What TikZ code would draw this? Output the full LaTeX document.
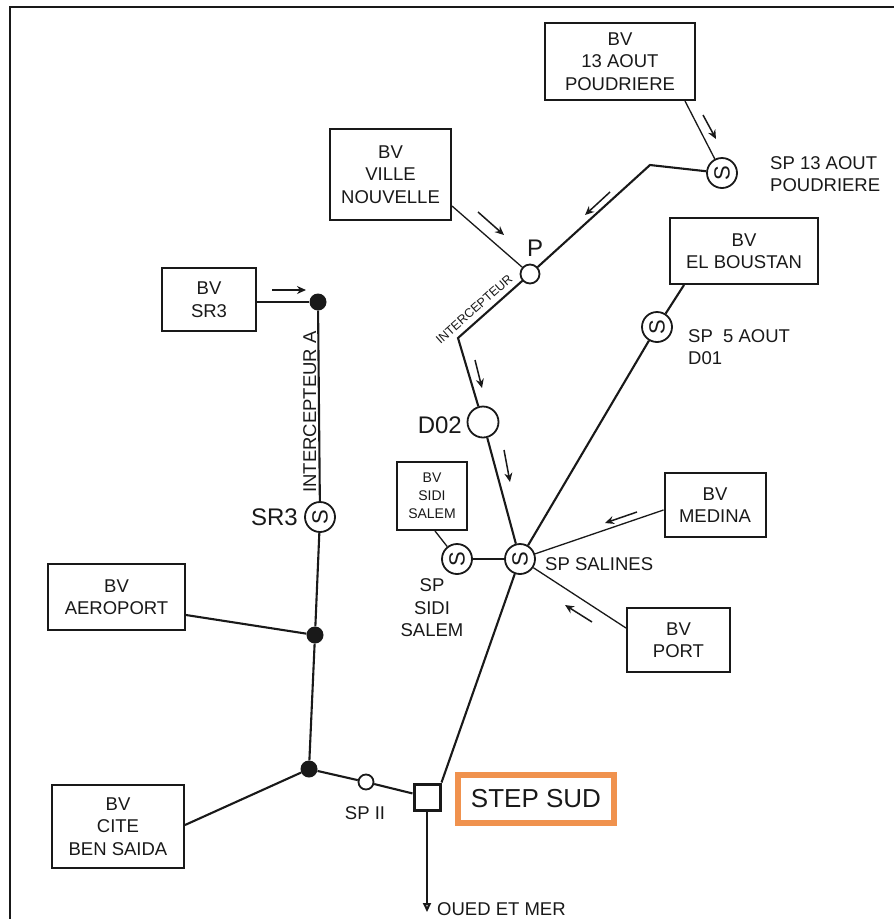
\documentclass[tikz,border=0pt]{standalone}
\usepackage{fontspec}
\setmainfont{Liberation Sans}
\usetikzlibrary{arrows.meta,calc}
\definecolor{stepor}{RGB}{240,146,78}
\definecolor{ink}{RGB}{25,25,25}
\tikzset{
 bvbox/.style={draw=ink,line width=2pt,align=center,inner sep=0pt,font=\fontsize{18.5}{22.5}\selectfont,text=ink},
 pipe/.style={draw=ink,line width=2.1pt},
 thinpipe/.style={draw=ink,line width=1.3pt},
 scirc/.style={circle,draw=ink,line width=1.8pt,fill=white,minimum size=30pt,inner sep=0pt,font=\fontsize{22}{22}\selectfont,text=ink},
 jdot/.style={circle,fill=ink,minimum size=17pt,inner sep=0pt},
 ocirc/.style={circle,draw=ink,fill=white,line width=1.8pt,inner sep=0pt},
 flow/.style={draw=ink,line width=1.5pt,-{Stealth[length=9pt,width=8pt]}},
 lbl/.style={font=\fontsize{18.5}{22.5}\selectfont,text=ink,inner sep=0pt,align=left},
 onelbl/.style={font=\fontsize{18.5}{22.5}\selectfont,text=ink,inner sep=0pt},
 biglbl/.style={font=\fontsize{24}{24}\selectfont,text=ink,inner sep=0pt},
}
\begin{document}
\begin{tikzpicture}[x=1pt,y=-1pt]
\useasboundingbox (0,0) rectangle (894,919);
\fill[white] (0,0) rectangle (894,919);
\draw[line width=1.5pt, ink] (10,919) -- (10,7) -- (894,7);

% boxes
\node[bvbox,minimum width=150pt,minimum height=77pt] (bv13) at (620,61.5) {BV\\13 AOUT\\POUDRIERE};
\node[bvbox,minimum width=121pt,minimum height=91pt] (vn) at (390.5,174.5) {BV\\VILLE\\NOUVELLE};
\node[bvbox,minimum width=94pt,minimum height=63pt] (bvsr3) at (209,299.5) {BV\\SR3};
\node[bvbox,minimum width=148pt,minimum height=66pt] (elb) at (744,251) {BV\\EL BOUSTAN};
\node[bvbox,minimum width=70pt,minimum height=68pt,font=\fontsize{14}{18}\selectfont] (bvsidi) at (432,496) {BV\\SIDI\\SALEM};
\node[bvbox,minimum width=101pt,minimum height=64pt] (med) at (715,505) {BV\\MEDINA};
\node[bvbox,minimum width=103pt,minimum height=64pt] (port) at (678.5,640) {BV\\PORT};
\node[bvbox,minimum width=137pt,minimum height=66pt] (aero) at (116.5,597) {BV\\AEROPORT};
\node[bvbox,minimum width=132pt,minimum height=83pt] (cite) at (118,826.5) {BV\\CITE\\BEN SAIDA};

% circles and junctions
\node[scirc,rotate=90] (sp13) at (722,173) {S};
\node[scirc,rotate=90] (sp5) at (657,327) {S};
\node[scirc,rotate=90] (sal) at (520,559) {S};
\node[scirc,rotate=90] (spsidi) at (457,559) {S};
\node[scirc,rotate=90] (sr3) at (320,517) {S};
\node[ocirc,minimum size=19pt] (P) at (530,274) {};
\node[ocirc,minimum size=31pt] (d02) at (483,422) {};
\node[ocirc,minimum size=15pt] (spII) at (366,782) {};
\node[jdot] (dot1) at (318,302) {};
\node[jdot] (dot2) at (315,635) {};
\node[jdot] (dot3) at (309,769) {};
\node[draw=ink,line width=3pt,fill=white,minimum size=26pt,inner sep=0pt] (step) at (427,797) {};

\coordinate (c1) at (650,165);
\coordinate (c2) at (458,338);
\coordinate (out) at (427,912);

% connectors
\draw[thinpipe] (bv13.south -| 685,0) -- (sp13);
\draw[pipe] (sp13) -- (c1) -- (P);
\draw[thinpipe] (vn.east |- 0,206) -- (P);
\draw[pipe] (P) -- (c2) -- (d02);
\draw[pipe] (d02) -- (sal);
\draw[thinpipe] (bvsr3.east |- 0,302) -- (dot1);
\draw[pipe] (dot1) -- (sr3);
\draw[pipe] (sr3) -- (dot2);
\draw[pipe] (dot2) -- (dot3);
\draw[pipe] (aero.east |- 0,615) -- (dot2);
\draw[pipe] (cite.east |- 0,825) -- (dot3);
\draw[pipe] (dot3) -- (spII);
\draw[pipe] (spII) -- (step);
\draw[pipe,-{Triangle[open,length=9pt,width=8pt]}] (step) -- (out);
\draw[pipe] (elb.south -| 684,0) -- (sp5);
\draw[pipe] (sp5) -- (sal);
\draw[pipe] (sal) -- (step.north east);
\draw[thinpipe] (bvsidi.south -| 435,0) -- (spsidi);
\draw[pipe] (spsidi) -- (sal);
\draw[thinpipe] (med.west |- 0,510) -- (sal);
\draw[thinpipe] (port.west |- 0,628) -- (sal);

% flow arrows
\draw[flow] (703,115) -- (716,139);
\draw[flow] (610,192) -- (585,215);
\draw[flow] (478,212) -- (504,235);
\draw[flow] (272,290) -- (306,290);
\draw[flow] (475,360) -- (482,388);
\draw[flow] (504,450) -- (510,482);
\draw[flow] (637,512) -- (605,523);
\draw[flow] (592,622) -- (565,605);

% labels
\node[lbl,anchor=west] (l13) at (770,174) {SP 13 AOUT\\POUDRIERE};
\node[lbl,anchor=west] (l5) at (688,347) {SP\ \ 5 AOUT\\D01};
\node[onelbl,anchor=west] (lsal) at (545,564) {SP SALINES};
\node[lbl,align=center] (lsidi) at (432,608) {SP\\SIDI\\SALEM};
\node[biglbl,anchor=east] (lsr3) at (298,517) {SR3};
\node[biglbl,anchor=east] (ld02) at (462,425) {D02};
\node[biglbl] (lP) at (535,248) {P};
\node[onelbl,rotate=90,anchor=base] (lintA) at (316,412) {INTERCEPTEUR A};
\node[onelbl,font=\fontsize{12.5}{12.5}\selectfont,rotate=41.7,anchor=base] (lint) at (477,312.5) {INTERCEPTEUR};
\node[onelbl] (lspII) at (365,813) {SP II};
\node[onelbl,anchor=west] (loued) at (437,909) {OUED ET MER};
\node[draw=stepor,line width=6pt,minimum width=156pt,minimum height=48pt,inner sep=0pt,font=\fontsize{26}{26}\selectfont,text=ink] (stepl) at (536,799) {STEP SUD};
\end{tikzpicture}
\end{document}
